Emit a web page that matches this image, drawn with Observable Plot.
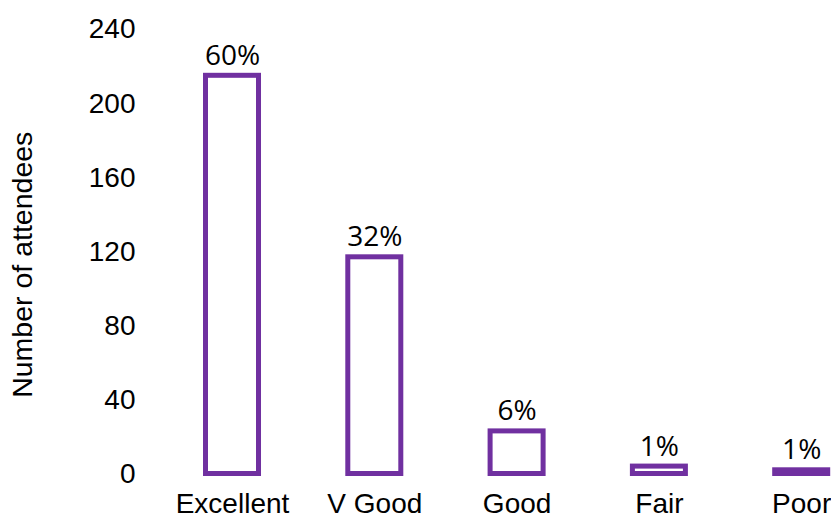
<!DOCTYPE html>
<html>
<head>
<meta charset="utf-8">
<script src="https://cdn.jsdelivr.net/npm/d3@7"></script>
<script src="https://cdn.jsdelivr.net/npm/@observablehq/plot@0.6"></script>
<style>
  html, body { margin: 0; padding: 0; background: #fff; }
  #chart { width: 831px; height: 520px; }
</style>
</head>
<body>
<div id="chart"></div>
<script>
// Event feedback: number of attendees per rating
const ratings = ["Excellent", "V Good", "Good", "Fair", "Poor"];
const attendees = [215, 117, 23, 4, 2];
const yTicks = [0, 40, 80, 120, 160, 200, 240];
const yTitle = "Number of attendees";

// Share labels are derived from the counts themselves
const total = d3.sum(attendees);
const rows = ratings.map((rating, i) => ({
  rating,
  count: attendees[i],
  share: Math.round(attendees[i] / total * 100) + "%"
}));

const purple = "#7030A0";

const chart = Plot.plot({
  width: 831,
  height: 520,
  marginTop: 29,
  marginBottom: 46.5,
  marginLeft: 205.5,
  marginRight: 3.3,
  style: {
    fontFamily: '"Liberation Sans", Arial, sans-serif',
    fontSize: "28px",
    color: "#000",
    background: "#fff"
  },
  x: {domain: ratings, paddingInner: 0.6275, paddingOuter: 0, round: false, label: null},
  y: {domain: [0, 240], label: null},
  marks: [
    Plot.axisX({tickSize: 0, tickPadding: 19, label: null, fontSize: 28}),
    Plot.axisY({ticks: yTicks, tickSize: 0, tickPadding: 70.5, label: null, fontSize: 28}),
    Plot.barY(rows, {x: "rating", y: "count", fill: "white", stroke: purple, strokeWidth: 5}),
    Plot.text(rows, {
      x: "rating", y: "count", text: "share",
      lineAnchor: "bottom", dy: -11,
      fontFamily: '"Open Sans", sans-serif', fontSize: 28, fill: "#000"
    }),
    Plot.text([yTitle], {
      text: d => d, frameAnchor: "left", textAnchor: "middle", lineAnchor: "middle",
      rotate: -90, dx: -183, dy: 13, fontSize: 28.5, fill: "#000"
    })
  ]
});

document.getElementById("chart").appendChild(chart);
</script>
</body>
</html>
